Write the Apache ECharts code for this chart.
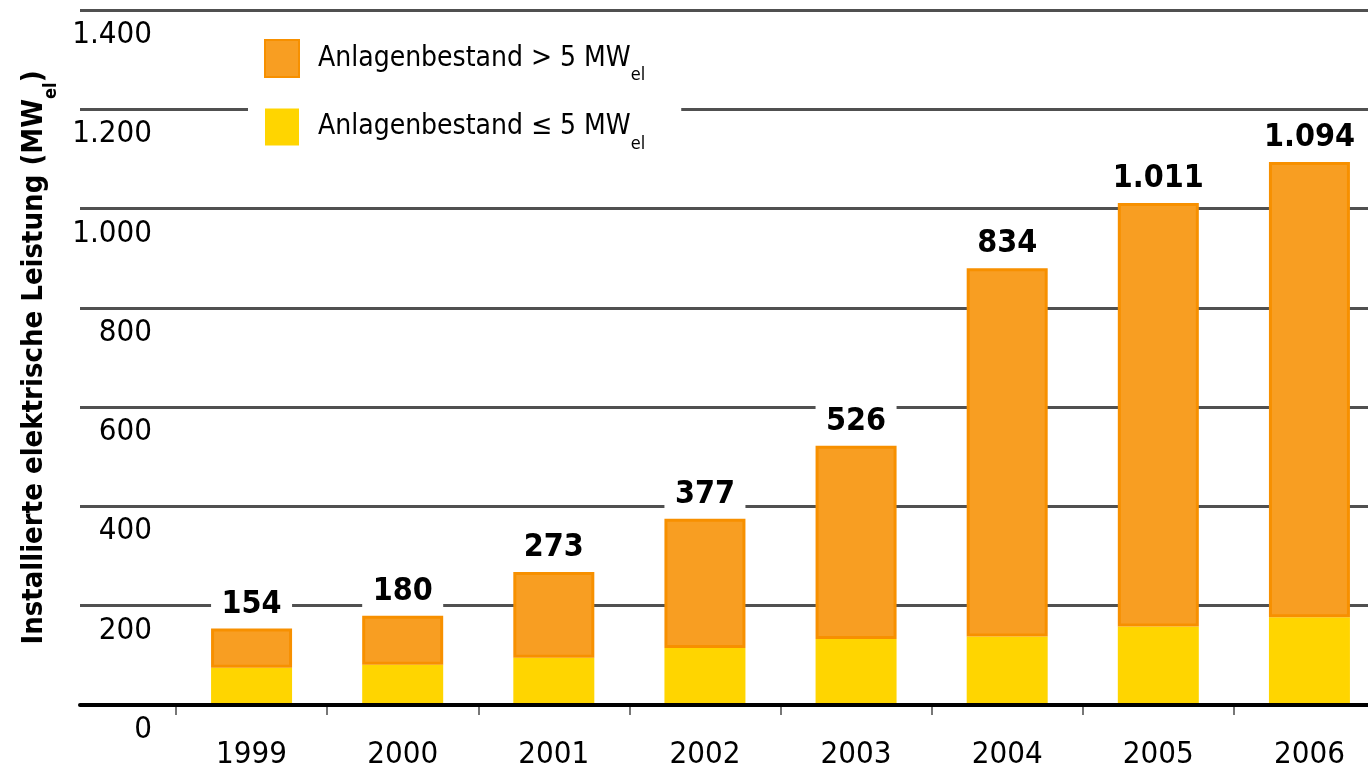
<!DOCTYPE html>
<html>
<head>
<meta charset="utf-8">
<script src="https://cdn.jsdelivr.net/npm/echarts@6/dist/echarts.min.js"></script>
<style>html,body{margin:0;padding:0;background:#fff;}#c{width:1368px;height:771px;}</style>
</head>
<body>
<div id="c"></div>
<script>
const categories = ['1999', '2000', '2001', '2002', '2003', '2004', '2005', '2006'];
const smallPlants = [75, 81, 95, 115, 133, 138, 158, 177];
const largePlants = [79, 99, 173, 260, 389, 742, 853, 917];
const totalLabels = ['154', '180', '273', '377', '526', '834', '1.011', '1.094'];
const yTickLabels = ['0', '200', '400', '600', '800', '1.000', '1.200', '1.400'];
const nameLarge = 'Anlagenbestand > 5 MWel';
const nameSmall = 'Anlagenbestand \u2264 5 MWel';

const FONT = "'DejaVu Sans Condensed', 'DejaVu Sans', sans-serif";
const chart = echarts.init(document.getElementById('c'));

chart.setOption({
  animation: false,
  backgroundColor: '#fff',
  grid: [
    { left: 176, right: -17, top: 10, bottom: 66, outerBoundsMode: 'none', containLabel: false },
    { left: 80, right: 0, top: 10, bottom: 66, outerBoundsMode: 'none', containLabel: false }
  ],
  legend: {
    data: [nameLarge, nameSmall],
    orient: 'vertical',
    left: 248,
    top: 29,
    padding: [10, 36, 10, 16],
    backgroundColor: '#fff',
    icon: 'rect',
    itemWidth: 34,
    itemHeight: 37,
    itemGap: 24,
    formatter: function (n) { return '{a|' + n.replace(/MWel$/, 'MW') + '}{s|el}'; },
    textStyle: {
      padding: [0, 0, 0, 14],
      rich: {
        a: { fontFamily: FONT, fontSize: 28, color: '#000', lineHeight: 36, verticalAlign: 'middle' },
        s: { fontFamily: FONT, fontSize: 18, color: '#000', lineHeight: 36, verticalAlign: 'bottom', padding: [0, 0, -8, 0] }
      }
    }
  },
  xAxis: [
    {
      type: 'category', gridIndex: 0, data: categories,
      axisLine: { show: false },
      axisTick: { show: true, length: 10, lineStyle: { color: '#777', width: 2 } },
      axisLabel: { color: '#000', fontFamily: FONT, fontSize: 31, margin: 34 },
      splitLine: { show: false }
    },
    {
      type: 'value', gridIndex: 1, min: 0, max: 1, z: 5,
      axisLine: { show: true, onZero: false, lineStyle: { color: '#000', width: 4 } },
      axisTick: { show: false }, axisLabel: { show: false }, splitLine: { show: false }
    }
  ],
  yAxis: [
    { type: 'value', gridIndex: 0, min: 0, max: 1400, interval: 200, show: false, splitLine: { show: false } },
    {
      type: 'value', gridIndex: 1, min: 0, max: 1400, interval: 200,
      axisLine: { show: false }, axisTick: { show: false },
      splitLine: { show: true, lineStyle: { color: '#505050', width: 3 } },
      axisLabel: {
        inside: true, margin: 72, align: 'right', verticalAlign: 'top', lineHeight: 50,
        color: '#000', fontFamily: FONT, fontSize: 31,
        formatter: function (v) { return yTickLabels[Math.round(v / 200)]; }
      },
      name: '{t|Installierte elektrische Leistung (MW}{s|el}{t|)}',
      nameLocation: 'middle', nameRotate: 90, nameGap: 28,
      nameTextStyle: {
        rich: {
          t: { fontFamily: FONT, fontWeight: 'bold', fontSize: 29, color: '#000', lineHeight: 36, verticalAlign: 'middle' },
          s: { fontFamily: FONT, fontWeight: 'bold', fontSize: 18, color: '#000', lineHeight: 36, verticalAlign: 'bottom', padding: [0, 0, -8, 0] }
        }
      }
    }
  ],
  series: [
    {
      name: nameSmall, type: 'bar', stack: 'total', xAxisIndex: 0, yAxisIndex: 0,
      barWidth: 81, data: smallPlants,
      itemStyle: { color: '#FFD500' }
    },
    {
      name: nameLarge, type: 'bar', stack: 'total', xAxisIndex: 0, yAxisIndex: 0,
      barWidth: 81, data: largePlants,
      itemStyle: { color: '#F89E22', borderColor: '#F79000', borderWidth: 3 },
      label: {
        show: true, position: 'top', distance: 2,
        formatter: function (p) { return totalLabels[p.dataIndex]; },
        backgroundColor: '#fff', width: 81, align: 'center', padding: [3, 0, 3, 0],
        fontFamily: FONT, fontWeight: 'bold', fontSize: 32, color: '#000', lineHeight: 38
      }
    }
  ]
});
</script>
</body>
</html>
